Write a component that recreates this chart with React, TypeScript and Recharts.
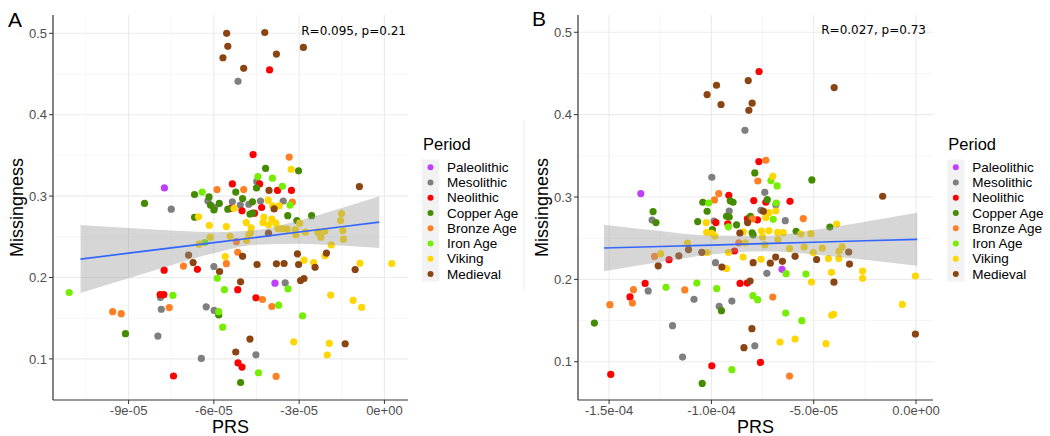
import React from 'react';
import { ComposedChart, Scatter, Area, Line, XAxis, YAxis, CartesianGrid } from 'recharts';

// PRS values are listed in units of 1e-5
const PRS_UNIT = 1e-5;

const PERIODS = ['Paleolithic', 'Mesolithic', 'Neolithic', 'Copper Age', 'Bronze Age', 'Iron Age', 'Viking', 'Medieval'];
const PERIOD_COLORS = ['#bf3eff', '#7f7f7f', '#ff0000', '#458b00', '#ff7f24', '#76ee00', '#ffd700', '#8b4513'];

const Y_TICKS = [0.1, 0.2, 0.3, 0.4, 0.5];
const Y_MINOR = [0.15, 0.25, 0.35, 0.45];

// ---- panel A: [PRS, missingness]
const aPaleolithic = [[-7.74, 0.31], [-3.85, 0.193]];
const aMesolithic = [
  [-5.15, 0.441], [-7.5, 0.284], [-6.21, 0.294], [-5.97, 0.286], [-5.35, 0.293], [-5.07, 0.289], [-4.77, 0.29],
  [-4.49, 0.318], [-4.36, 0.294], [-3.56, 0.294], [-6.0, 0.2135], [-7.88, 0.1755], [-7.85, 0.161], [-7.97, 0.128],
  [-6.27, 0.164], [-5.99, 0.1595], [-6.44, 0.1006], [-4.52, 0.105], [-3.49, 0.1935],
];
const aNeolithic = [
  [-4.04, 0.455], [-4.62, 0.351], [-4.39, 0.315], [-5.35, 0.315], [-3.76, 0.307], [-3.27, 0.307], [-5.4, 0.285],
  [-5.01, 0.282], [-4.32, 0.286], [-4.57, 0.279], [-6.58, 0.21], [-7.75, 0.209], [-7.89, 0.179], [-7.76, 0.179],
  [-7.42, 0.079], [-5.16, 0.185], [-4.52, 0.175], [-5.15, 0.095], [-5.01, 0.09],
];
const aCopperAge = [
  [-4.18, 0.334], [-3.02, 0.331], [-4.5, 0.31], [-5.23, 0.305], [-6.68, 0.302], [-6.17, 0.299], [-6.12, 0.289],
  [-6.0, 0.283], [-5.81, 0.291], [-4.99, 0.297], [-4.64, 0.293], [-5.51, 0.284], [-4.73, 0.278], [-4.64, 0.279],
  [-3.4, 0.276], [-2.56, 0.276], [-3.08, 0.27], [-6.68, 0.274], [-8.44, 0.291], [-9.11, 0.131], [-5.83, 0.154],
  [-5.06, 0.071],
];
const aBronzeAge = [
  [-3.35, 0.348], [-5.89, 0.308], [-4.95, 0.308], [-3.24, 0.2925], [-5.21, 0.244], [-5.16, 0.231], [-7.07, 0.214],
  [-5.56, 0.217], [-9.56, 0.158], [-9.26, 0.1555], [-7.57, 0.163], [-4.29, 0.173], [-3.96, 0.1644], [-3.81, 0.0785],
];
const aIronAge = [
  [-4.45, 0.324], [-3.94, 0.322], [-3.59, 0.312], [-6.41, 0.305], [-3.32, 0.289], [-6.32, 0.243], [-11.09, 0.1816],
  [-7.44, 0.178], [-5.88, 0.199], [-5.63, 0.185], [-5.83, 0.158], [-5.69, 0.139], [-4.43, 0.083], [-3.72, 0.166],
  [-3.39, 0.186], [-2.88, 0.153],
];
const aViking = [
  [-3.28, 0.333], [-4.09, 0.295], [-5.29, 0.285], [-3.93, 0.288], [-3.7, 0.288], [-6.54, 0.2745], [-4.24, 0.274],
  [-1.51, 0.2785], [-1.54, 0.27], [-6.16, 0.264], [-5.56, 0.2626], [-4.86, 0.2675], [-4.69, 0.261], [-4.27, 0.2675],
  [-4.08, 0.2647], [-3.82, 0.2667], [-2.98, 0.2667], [-3.96, 0.2717], [-6.13, 0.2496], [-5.43, 0.2506],
  [-4.77, 0.2524], [-4.71, 0.2552], [-4.85, 0.2456], [-3.74, 0.26], [-3.59, 0.26], [-3.42, 0.2594], [-3.14, 0.2585],
  [-3.12, 0.2524], [-2.78, 0.2557], [-2.34, 0.2557], [-2.1, 0.2567], [-2.24, 0.2496], [-1.46, 0.2577],
  [-1.44, 0.2471], [-1.87, 0.24], [-6.52, 0.241], [-5.6, 0.2258], [-2.83, 0.2213], [-2.49, 0.2184], [-2.09, 0.2266],
  [-0.86, 0.2174], [0.26, 0.2172], [-1.89, 0.1784], [-1.1, 0.1718], [-0.8, 0.1632], [-3.19, 0.121], [-1.94, 0.119],
  [-2.01, 0.1048],
];
const aMedieval = [
  [-5.55, 0.5], [-5.51, 0.484], [-5.68, 0.47], [-4.95, 0.457], [-4.21, 0.501], [-3.8, 0.4745], [-2.85, 0.4827],
  [-0.88, 0.3117], [-4.06, 0.307], [-3.88, 0.2843], [-4.08, 0.2545], [-6.89, 0.2275], [-6.73, 0.2184], [-4.99, 0.226],
  [-5.8, 0.2074], [-4.48, 0.216], [-3.8, 0.2168], [-3.53, 0.2172], [-3.06, 0.229], [-3.02, 0.216], [-2.44, 0.2125],
  [-2.04, 0.23], [-1.03, 0.2098], [-5.06, 0.1947], [-2.95, 0.1963], [-2.83, 0.1988], [-4.73, 0.1244],
  [-5.23, 0.1085], [-1.38, 0.1186],
];
// linear fit with 95% band
const aFitPrs = [-10.69, -9, -7.5, -6, -4.5, -3, -1.5, -0.18];
const aFit = [0.2226, 0.2299, 0.2364, 0.2428, 0.2493, 0.2558, 0.2623, 0.268];
const aLower = [0.181, 0.199, 0.215, 0.2299, 0.2403, 0.2416, 0.2393, 0.2363];
const aUpper = [0.2646, 0.2608, 0.2578, 0.2557, 0.2583, 0.27, 0.2853, 0.2997];
const aXTicks = [-9, -6, -3, 0];
const aXLabels = ['-9e-05', '-6e-05', '-3e-05', '0e+00'];
const aXMinor = [-10.5, -7.5, -4.5, -1.5];

// ---- panel B: [PRS, missingness]
const bPaleolithic = [[-13.45, 0.3041], [-6.55, 0.2122]];
const bMesolithic = [
  [-8.36, 0.381], [-9.98, 0.324], [-7.39, 0.3057], [-6.85, 0.2905], [-7.58, 0.2838], [-9.13, 0.283], [-6.39, 0.2713],
  [-9.87, 0.2708], [-12.9, 0.272], [-9.8, 0.2203], [-7.29, 0.2073], [-13.09, 0.186], [-10.85, 0.1757],
  [-9.62, 0.1672], [-9.0, 0.1736], [-11.9, 0.1437], [-7.88, 0.1194], [-11.41, 0.1056],
];
const bNeolithic = [
  [-7.67, 0.4524], [-7.68, 0.343], [-9.15, 0.302], [-7.93, 0.2956], [-7.34, 0.2936], [-6.16, 0.2948], [-9.78, 0.2689],
  [-9.2, 0.2674], [-8.24, 0.2735], [-7.75, 0.2723], [-8.87, 0.2344], [-12.07, 0.2239], [-13.24, 0.1951],
  [-13.98, 0.1787], [-8.6, 0.1951], [-8.25, 0.1955], [-9.98, 0.0951], [-7.6, 0.0991], [-14.92, 0.0846],
];
const bCopperAge = [
  [-7.88, 0.3292], [-5.09, 0.3207], [-10.42, 0.2936], [-9.08, 0.2954], [-8.94, 0.2936], [-7.27, 0.2968],
  [-12.85, 0.2823], [-12.71, 0.2689], [-10.21, 0.2826], [-10.67, 0.2701], [-9.26, 0.2766], [-9.13, 0.2757],
  [-8.09, 0.2766], [-8.77, 0.2662], [-9.95, 0.2605], [-8.01, 0.2565], [-7.96, 0.2541], [-5.86, 0.2583],
  [-4.21, 0.2635], [-15.72, 0.1469], [-9.51, 0.162], [-10.45, 0.0736],
];
const bBronzeAge = [
  [-7.34, 0.3446], [-7.73, 0.3194], [-9.64, 0.3041], [-9.85, 0.2964], [-7.99, 0.2735], [-5.51, 0.2738],
  [-8.66, 0.2444], [-12.78, 0.2279], [-13.81, 0.1875], [-13.86, 0.1712], [-14.96, 0.1693], [-11.3, 0.1872],
  [-7.0, 0.1785], [-6.18, 0.0825],
];
const bIronAge = [
  [-7.09, 0.32], [-6.79, 0.3134], [-10.13, 0.2927], [-6.83, 0.2927], [-6.98, 0.2729], [-9.17, 0.2638],
  [-12.22, 0.1903], [-10.71, 0.1955], [-9.74, 0.1888], [-7.97, 0.1802], [-7.74, 0.1753], [-6.35, 0.2069],
  [-5.38, 0.2064], [-6.37, 0.159], [-5.58, 0.1498], [-9.0, 0.0903],
];
const bViking = [
  [-7.0, 0.3252], [-7.19, 0.281], [-6.85, 0.283], [-7.34, 0.275], [-10.25, 0.2689], [-3.88, 0.2672],
  [-10.23, 0.2571], [-9.99, 0.2559], [-9.83, 0.2525], [-8.44, 0.2577], [-7.55, 0.2587], [-7.19, 0.2589],
  [-6.77, 0.2571], [-6.49, 0.2567], [-5.63, 0.255], [-5.14, 0.2555], [-7.5, 0.2514], [-6.75, 0.2482],
  [-7.39, 0.2419], [-8.34, 0.2444], [-11.17, 0.2441], [-12.48, 0.231], [-10.21, 0.2324], [-9.17, 0.2326],
  [-6.18, 0.2374], [-5.47, 0.2392], [-5.02, 0.2324], [-4.58, 0.2379], [-3.77, 0.234], [-3.61, 0.2395],
  [-8.45, 0.2271], [-7.58, 0.2243], [-4.28, 0.2252], [-3.77, 0.2252], [-9.26, 0.2131], [-4.13, 0.2085],
  [-5.11, 0.1967], [-2.61, 0.2101], [-2.61, 0.2012], [-0.03, 0.204], [-0.67, 0.1696], [-4.12, 0.1563],
  [-4.03, 0.1575], [-6.65, 0.1238], [-5.91, 0.1275], [-4.4, 0.1219],
];
const bMedieval = [
  [-8.2, 0.4414], [-9.75, 0.4357], [-10.21, 0.4244], [-9.53, 0.4123], [-8.01, 0.4139], [-8.17, 0.4053],
  [-4.0, 0.4329], [-1.63, 0.3009], [-7.46, 0.2826], [-8.23, 0.2689], [-8.61, 0.2563], [-11.12, 0.2361],
  [-11.59, 0.2286], [-10.47, 0.2328], [-12.6, 0.2164], [-9.49, 0.2149], [-7.96, 0.2203], [-7.12, 0.2197],
  [-6.86, 0.227], [-6.53, 0.2219], [-5.91, 0.228], [-4.86, 0.2241], [-3.25, 0.2185], [-3.29, 0.2332],
  [-4.01, 0.1966], [-8.11, 0.1979], [-8.02, 0.1401], [-8.41, 0.117], [-0.03, 0.1335],
];
const bFitPrs = [-15.25, -12.5, -10, -7.5, -5, -2.5, 0.06];
const bFit = [0.238, 0.2399, 0.2416, 0.2434, 0.2451, 0.2468, 0.2486];
const bLower = [0.2097, 0.2211, 0.2301, 0.234, 0.2302, 0.2237, 0.2164];
const bUpper = [0.2663, 0.2587, 0.2531, 0.2528, 0.26, 0.2699, 0.2808];
const bXTicks = [-15, -10, -5, 0];
const bXLabels = ['-1.5e-04', '-1.0e-04', '-5.0e-05', '0.0e+00'];
const bXMinor = [-12.5, -7.5, -2.5];

const FONT = '"Liberation Sans", Arial, sans-serif';
const CHART_W = 525;
const CHART_H = 436;
const MARGIN = { top: 15, right: 117, bottom: 16, left: 13 };

const toPoints = (pairs: number[][]) => pairs.map(([p, m]) => ({ x: p * PRS_UNIT, y: m }));
const units = (vals: number[]) => vals.map((v) => v * PRS_UNIT);

const dotShape = (fill: string) => (props: any) => <circle cx={props.cx} cy={props.cy} r={3.6} fill={fill} />;

type PanelProps = {
  groups: number[][][];
  fitPrs: number[];
  fit: number[];
  lower: number[];
  upper: number[];
  xDomain: number[];
  yDomain: number[];
  xTicks: number[];
  xLabels: string[];
  xMinor: number[];
};

function Panel({ groups, fitPrs, fit, lower, upper, xDomain, yDomain, xTicks, xLabels, xMinor }: PanelProps) {
  const bandData = fitPrs.map((p, i) => ({ x: p * PRS_UNIT, band: [lower[i], upper[i]], fit: fit[i] }));
  const tickStyle = { fill: '#4d4d4d', fontSize: 13, fontFamily: FONT };
  const axisLine = { stroke: '#333333', strokeWidth: 1.2 };

  // the smoother sits on a second, transparent chart so it covers the points
  const quietAxes = [
    <XAxis key="x" type="number" dataKey="x" domain={units(xDomain)} allowDataOverflow height={20}
      tick={false} tickLine={false} axisLine={false} />,
    <YAxis key="y" type="number" dataKey="y" domain={yDomain} allowDataOverflow width={40}
      tick={false} tickLine={false} axisLine={false} />,
  ];

  return (
    <div style={{ position: 'relative', width: CHART_W, height: CHART_H }}>
      <div style={{ position: 'absolute', left: 0, top: 0 }}>
        <ComposedChart width={CHART_W} height={CHART_H} margin={MARGIN}>
          <CartesianGrid verticalValues={units(xMinor)} horizontalValues={Y_MINOR} stroke="#f4f4f4" strokeWidth={0.8} />
          <CartesianGrid verticalValues={units(xTicks)} horizontalValues={Y_TICKS} stroke="#ebebeb" strokeWidth={1.1} />
          <XAxis
            type="number"
            dataKey="x"
            domain={units(xDomain)}
            ticks={units(xTicks)}
            allowDataOverflow
            height={20}
            tickSize={4}
            tickMargin={2}
            tickFormatter={(_v: number, i: number) => xLabels[i]}
            tick={tickStyle}
            axisLine={axisLine}
            tickLine={{ stroke: '#333333' }}
          />
          <YAxis
            type="number"
            dataKey="y"
            domain={yDomain}
            ticks={Y_TICKS}
            allowDataOverflow
            width={40}
            tickSize={4}
            tickMargin={2}
            tickFormatter={(v: number) => v.toFixed(1)}
            tick={tickStyle}
            axisLine={axisLine}
            tickLine={{ stroke: '#333333' }}
          />
          {groups.map((g, i) => (
            <Scatter
              key={PERIODS[i]}
              name={PERIODS[i]}
              data={toPoints(g)}
              fill={PERIOD_COLORS[i]}
              shape={dotShape(PERIOD_COLORS[i])}
              isAnimationActive={false}
            />
          ))}
        </ComposedChart>
      </div>
      <div style={{ position: 'absolute', left: 0, top: 0, pointerEvents: 'none' }}>
        <ComposedChart width={CHART_W} height={CHART_H} data={bandData} margin={MARGIN}>
          {quietAxes}
          <Area
            dataKey="band"
            type="monotone"
            stroke="none"
            fill="#999999"
            fillOpacity={0.4}
            isAnimationActive={false}
            activeDot={false}
          />
          <Line
            dataKey="fit"
            type="linear"
            stroke="#3366ff"
            strokeWidth={1.6}
            dot={false}
            activeDot={false}
            isAnimationActive={false}
          />
        </ComposedChart>
      </div>
    </div>
  );
}

function LegendBlock({ x }: { x: number }) {
  const top = 159.5;
  const step = 15.25;
  return (
    <g fontFamily={FONT}>
      <text x={x} y={149.5} fontSize={16.5} fill="#000">Period</text>
      <rect x={x - 1} y={top} width={17} height={step * PERIODS.length} fill="#f2f2f2" />
      {PERIODS.map((p, i) => {
        const cy = top + step / 2 + step * i;
        return (
          <g key={p}>
            <circle cx={x + 7.5} cy={cy} r={3} fill={PERIOD_COLORS[i]} />
            <text x={x + 24} y={cy + 4.8} fontSize={13.5} fill="#000">{p}</text>
          </g>
        );
      })}
    </g>
  );
}

export default function App() {
  const aGroups = [aPaleolithic, aMesolithic, aNeolithic, aCopperAge, aBronzeAge, aIronAge, aViking, aMedieval];
  const bGroups = [bPaleolithic, bMesolithic, bNeolithic, bCopperAge, bBronzeAge, bIronAge, bViking, bMedieval];
  return (
    <div style={{ position: 'absolute', left: 0, top: 0, width: 1050, height: 436, background: '#fff' }}>
      <div style={{ position: 'absolute', left: 0, top: 0 }}>
        <Panel
          groups={aGroups}
          fitPrs={aFitPrs}
          fit={aFit}
          lower={aLower}
          upper={aUpper}
          xDomain={[-11.66, 0.83]}
          yDomain={[0.0495, 0.5225]}
          xTicks={aXTicks}
          xLabels={aXLabels}
          xMinor={aXMinor}
        />
      </div>
      <div style={{ position: 'absolute', left: 525, top: 0 }}>
        <Panel
          groups={bGroups}
          fitPrs={bFitPrs}
          fit={bFit}
          lower={bLower}
          upper={bUpper}
          xDomain={[-16.52, 0.83]}
          yDomain={[0.0535, 0.521]}
          xTicks={bXTicks}
          xLabels={bXLabels}
          xMinor={bXMinor}
        />
      </div>
      <svg width={1050} height={436} style={{ position: 'absolute', left: 0, top: 0, pointerEvents: 'none' }}>
        <g fontFamily={FONT} fill="#000">
          <text x={8} y={27} fontSize={21}>A</text>
          <text x={532} y={26} fontSize={21}>B</text>
          <text x={230.5} y={433} fontSize={18} textAnchor="middle">PRS</text>
          <text x={755.5} y={433} fontSize={18} textAnchor="middle">PRS</text>
          <text transform="translate(23,207.5) rotate(-90)" fontSize={18} textAnchor="middle">Missingness</text>
          <text transform="translate(548,207.5) rotate(-90)" fontSize={18} textAnchor="middle">Missingness</text>
        </g>
        <g fontFamily='"DejaVu Sans", sans-serif' fill="#000" fontSize={12}>
          <text x={406} y={34.5} textAnchor="end">R=0.095, p=0.21</text>
          <text x={926} y={34} textAnchor="end">R=0.027, p=0.73</text>
        </g>
        <line x1={524} y1={120} x2={524} y2={290} stroke="#ececec" strokeWidth={1} />
        <LegendBlock x={423} />
        <LegendBlock x={948.3} />
      </svg>
    </div>
  );
}
